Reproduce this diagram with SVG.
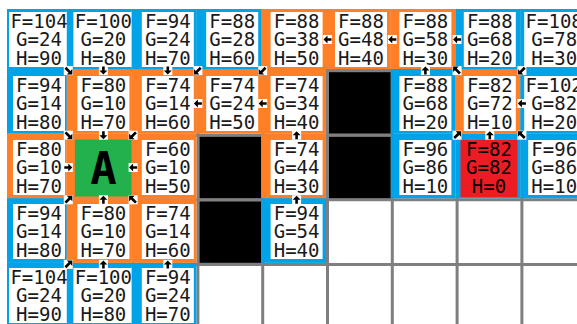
<svg xmlns="http://www.w3.org/2000/svg" xmlns:xlink="http://www.w3.org/1999/xlink" width="577" height="324" viewBox="0 0 577 324">
<style>
.b{fill:#00A2E8}
.o{fill:#FF7F27}
.w{fill:#fff}
.k{fill:#000}
.g{stroke:#7f7f7f;stroke-width:3;fill:none}
.t{font-family:"DejaVu Sans Mono",monospace;font-size:19px;fill:#1a1a1a;text-anchor:middle}
.big{font-family:"DejaVu Sans Mono",monospace;font-size:44px;font-weight:bold;fill:#000;text-anchor:middle}
</style>
<defs>
<g id="au"><rect x="-4.5" y="-4.5" width="9" height="9" fill="#fff"/><path d="M0,-4 L4,0 L1.3,0 L1.3,4 L-1.3,4 L-1.3,0 L-4,0 Z" fill="#000"/></g>
<g id="ad"><rect x="-4.5" y="-4.5" width="9" height="9" fill="#fff"/><path d="M-4,-4 L1.5,-4 L-0.3,-2.2 L3.8,1.9 L1.9,3.8 L-2.2,-0.3 L-4,1.5 Z" fill="#000"/></g>
</defs>
<rect width="577" height="324" fill="#fff"/>
<g id="grid">
<path class="g" d="M68.3,9V324M133.1,9V324M197.9,9V324M262.7,9V324M327.5,9V324M392.3,9V324M457.1,9V324M521.9,9V324M7,70.6H577M7,135.2H577M7,199.8H577M7,264.4H577"/>
</g>
<g id="walls">
<rect class="k" x="329" y="72.1" width="61.8" height="61.6"/>
<rect class="k" x="199.4" y="136.7" width="61.8" height="61.6"/>
<rect class="k" x="329" y="136.7" width="61.8" height="61.6"/>
<rect class="k" x="199.4" y="201.3" width="61.8" height="61.6"/>
</g>
<g id="c0-0"><rect class="b" x="7" y="9" width="59.8" height="60.1"/><rect class="w" x="9" y="12" width="60" height="55"/><text class="t" y="28.1"><tspan x="39">F=104</tspan><tspan x="39" dy="18.3">G=24</tspan><tspan x="39" dy="18.3">H=90</tspan></text></g>
<g id="c1-0"><rect class="b" x="66.8" y="9" width="64.8" height="60.1"/><rect class="w" x="73.4" y="12" width="60" height="55"/><text class="t" y="28.1"><tspan x="103.4">F=100</tspan><tspan x="103.4" dy="18.3">G=20</tspan><tspan x="103.4" dy="18.3">H=80</tspan></text></g>
<g id="c2-0"><rect class="b" x="131.6" y="9" width="64.8" height="60.1"/><rect class="w" x="141.8" y="12" width="52" height="55"/><text class="t" y="28.1"><tspan x="167.8">F=94</tspan><tspan x="167.8" dy="18.3">G=24</tspan><tspan x="167.8" dy="18.3">H=70</tspan></text></g>
<g id="c3-0"><rect class="b" x="196.4" y="9" width="64.8" height="60.1"/><rect class="w" x="206.2" y="12" width="52" height="55"/><text class="t" y="28.1"><tspan x="232.2">F=88</tspan><tspan x="232.2" dy="18.3">G=28</tspan><tspan x="232.2" dy="18.3">H=60</tspan></text></g>
<g id="c4-0"><rect class="o" x="261.2" y="9" width="64.8" height="60.1"/><rect class="w" x="270.6" y="12" width="52" height="55"/><text class="t" y="28.1"><tspan x="296.6">F=88</tspan><tspan x="296.6" dy="18.3">G=38</tspan><tspan x="296.6" dy="18.3">H=50</tspan></text></g>
<g id="c5-0"><rect class="o" x="326" y="9" width="64.8" height="60.1"/><rect class="w" x="335" y="12" width="52" height="55"/><text class="t" y="28.1"><tspan x="361">F=88</tspan><tspan x="361" dy="18.3">G=48</tspan><tspan x="361" dy="18.3">H=40</tspan></text></g>
<g id="c6-0"><rect class="o" x="390.8" y="9" width="64.8" height="60.1"/><rect class="w" x="399.4" y="12" width="52" height="55"/><text class="t" y="28.1"><tspan x="425.4">F=88</tspan><tspan x="425.4" dy="18.3">G=58</tspan><tspan x="425.4" dy="18.3">H=30</tspan></text></g>
<g id="c7-0"><rect class="b" x="455.6" y="9" width="64.8" height="60.1"/><rect class="w" x="463.8" y="12" width="52" height="55"/><text class="t" y="28.1"><tspan x="489.8">F=88</tspan><tspan x="489.8" dy="18.3">G=68</tspan><tspan x="489.8" dy="18.3">H=20</tspan></text></g>
<g id="c8-0"><rect class="b" x="520.4" y="9" width="64.8" height="60.1"/><rect class="w" x="524.2" y="12" width="60" height="55"/><text class="t" y="28.1"><tspan x="554.2">F=108</tspan><tspan x="554.2" dy="18.3">G=78</tspan><tspan x="554.2" dy="18.3">H=30</tspan></text></g>

<g id="c0-1"><rect class="b" x="7" y="69.1" width="59.8" height="64.6"/><rect class="w" x="13" y="76" width="52" height="55"/><text class="t" y="92.1"><tspan x="39">F=94</tspan><tspan x="39" dy="18.3">G=14</tspan><tspan x="39" dy="18.3">H=80</tspan></text></g>
<g id="c1-1"><rect class="o" x="66.8" y="69.1" width="64.8" height="64.6"/><rect class="w" x="77.4" y="76" width="52" height="55"/><text class="t" y="92.1"><tspan x="103.4">F=80</tspan><tspan x="103.4" dy="18.3">G=10</tspan><tspan x="103.4" dy="18.3">H=70</tspan></text></g>
<g id="c2-1"><rect class="o" x="131.6" y="69.1" width="64.8" height="64.6"/><rect class="w" x="141.8" y="76" width="52" height="55"/><text class="t" y="92.1"><tspan x="167.8">F=74</tspan><tspan x="167.8" dy="18.3">G=14</tspan><tspan x="167.8" dy="18.3">H=60</tspan></text></g>
<g id="c3-1"><rect class="o" x="196.4" y="69.1" width="64.8" height="64.6"/><rect class="w" x="206.2" y="76" width="52" height="55"/><text class="t" y="92.1"><tspan x="232.2">F=74</tspan><tspan x="232.2" dy="18.3">G=24</tspan><tspan x="232.2" dy="18.3">H=50</tspan></text></g>
<g id="c4-1"><rect class="o" x="261.2" y="69.1" width="64.8" height="64.6"/><rect class="w" x="270.6" y="76" width="52" height="55"/><text class="t" y="92.1"><tspan x="296.6">F=74</tspan><tspan x="296.6" dy="18.3">G=34</tspan><tspan x="296.6" dy="18.3">H=40</tspan></text></g>
<g id="c6-1"><rect class="b" x="390.8" y="69.1" width="64.8" height="64.6"/><rect class="w" x="399.4" y="76" width="52" height="55"/><text class="t" y="92.1"><tspan x="425.4">F=88</tspan><tspan x="425.4" dy="18.3">G=68</tspan><tspan x="425.4" dy="18.3">H=20</tspan></text></g>
<g id="c7-1"><rect class="o" x="455.6" y="69.1" width="64.8" height="64.6"/><rect class="w" x="463.8" y="76" width="52" height="55"/><text class="t" y="92.1"><tspan x="489.8">F=82</tspan><tspan x="489.8" dy="18.3">G=72</tspan><tspan x="489.8" dy="18.3">H=10</tspan></text></g>
<g id="c8-1"><rect class="b" x="520.4" y="69.1" width="64.8" height="64.6"/><rect class="w" x="524.2" y="76" width="60" height="55"/><text class="t" y="92.1"><tspan x="554.2">F=102</tspan><tspan x="554.2" dy="18.3">G=82</tspan><tspan x="554.2" dy="18.3">H=20</tspan></text></g>

<g id="c0-2"><rect class="o" x="7" y="133.7" width="59.8" height="64.6"/><rect class="w" x="13" y="140" width="52" height="55"/><text class="t" y="156.1"><tspan x="39">F=80</tspan><tspan x="39" dy="18.3">G=10</tspan><tspan x="39" dy="18.3">H=70</tspan></text></g>
<g id="start"><rect class="o" x="66.8" y="133.7" width="64.8" height="64.6"/><rect fill="#22B14C" x="74.9" y="139.5" width="57" height="57"/><text class="big" x="103.4" y="183.5">A</text></g>
<g id="c2-2"><rect class="o" x="131.6" y="133.7" width="64.8" height="64.6"/><rect class="w" x="141.8" y="140" width="52" height="55"/><text class="t" y="156.1"><tspan x="167.8">F=60</tspan><tspan x="167.8" dy="18.3">G=10</tspan><tspan x="167.8" dy="18.3">H=50</tspan></text></g>
<g id="c4-2"><rect class="o" x="261.2" y="133.7" width="64.8" height="64.6"/><rect class="w" x="270.6" y="140" width="52" height="55"/><text class="t" y="156.1"><tspan x="296.6">F=74</tspan><tspan x="296.6" dy="18.3">G=44</tspan><tspan x="296.6" dy="18.3">H=30</tspan></text></g>
<g id="c6-2"><rect class="b" x="390.8" y="133.7" width="64.8" height="64.6"/><rect class="w" x="399.4" y="140" width="52" height="55"/><text class="t" y="156.1"><tspan x="425.4">F=96</tspan><tspan x="425.4" dy="18.3">G=86</tspan><tspan x="425.4" dy="18.3">H=10</tspan></text></g>
<g id="goal"><rect class="b" x="455.6" y="133.7" width="64.8" height="64.6"/><rect fill="#ED1C24" x="460.5" y="140" width="57" height="57"/><text class="t" y="156.1" style="fill:#000"><tspan x="489">F=82</tspan><tspan x="489" dy="18.3">G=82</tspan><tspan x="489" dy="18.3">H=0</tspan></text></g>
<g id="c8-2"><rect class="b" x="520.4" y="133.7" width="64.8" height="64.6"/><rect class="w" x="528.2" y="140" width="52" height="55"/><text class="t" y="156.1"><tspan x="554.2">F=96</tspan><tspan x="554.2" dy="18.3">G=86</tspan><tspan x="554.2" dy="18.3">H=10</tspan></text></g>

<g id="c0-3"><rect class="b" x="7" y="198.3" width="59.8" height="64.6"/><rect class="w" x="13" y="204" width="52" height="55"/><text class="t" y="220.1"><tspan x="39">F=94</tspan><tspan x="39" dy="18.3">G=14</tspan><tspan x="39" dy="18.3">H=80</tspan></text></g>
<g id="c1-3"><rect class="o" x="66.8" y="198.3" width="64.8" height="64.6"/><rect class="w" x="77.4" y="204" width="52" height="55"/><text class="t" y="220.1"><tspan x="103.4">F=80</tspan><tspan x="103.4" dy="18.3">G=10</tspan><tspan x="103.4" dy="18.3">H=70</tspan></text></g>
<g id="c2-3"><rect class="o" x="131.6" y="198.3" width="64.8" height="64.6"/><rect class="w" x="141.8" y="204" width="52" height="55"/><text class="t" y="220.1"><tspan x="167.8">F=74</tspan><tspan x="167.8" dy="18.3">G=14</tspan><tspan x="167.8" dy="18.3">H=60</tspan></text></g>
<g id="c4-3"><rect class="b" x="261.2" y="198.3" width="64.8" height="64.6"/><rect class="w" x="270.6" y="204" width="52" height="55"/><text class="t" y="220.1"><tspan x="296.6">F=94</tspan><tspan x="296.6" dy="18.3">G=54</tspan><tspan x="296.6" dy="18.3">H=40</tspan></text></g>

<g id="c0-4"><rect class="b" x="7" y="262.9" width="59.8" height="64.6"/><rect class="w" x="9" y="268" width="60" height="55"/><text class="t" y="284.1"><tspan x="39">F=104</tspan><tspan x="39" dy="18.3">G=24</tspan><tspan x="39" dy="18.3">H=90</tspan></text></g>
<g id="c1-4"><rect class="b" x="66.8" y="262.9" width="64.8" height="64.6"/><rect class="w" x="73.4" y="268" width="60" height="55"/><text class="t" y="284.1"><tspan x="103.4">F=100</tspan><tspan x="103.4" dy="18.3">G=20</tspan><tspan x="103.4" dy="18.3">H=80</tspan></text></g>
<g id="c2-4"><rect class="b" x="131.6" y="262.9" width="64.8" height="64.6"/><rect class="w" x="141.8" y="268" width="52" height="55"/><text class="t" y="284.1"><tspan x="167.8">F=94</tspan><tspan x="167.8" dy="18.3">G=24</tspan><tspan x="167.8" dy="18.3">H=70</tspan></text></g>

<g id="connectors">
<use href="#ad" transform="translate(68.3,70.6) rotate(180)"/>
<use href="#au" transform="translate(103.4,70.6) rotate(180)"/>
<use href="#au" transform="translate(167.8,70.6) rotate(180)"/>
<use href="#ad" transform="translate(197.9,70.6) rotate(270)"/>
<use href="#ad" transform="translate(262.7,70.6) rotate(270)"/>
<use href="#au" transform="translate(327.5,39.5) rotate(270)"/>
<use href="#au" transform="translate(392.3,39.5) rotate(270)"/>
<use href="#au" transform="translate(457.1,39.5) rotate(270)"/>
<use href="#ad" transform="translate(521.9,70.6) rotate(270)"/>
<use href="#ad" transform="translate(68.3,135.2) rotate(180)"/>
<use href="#au" transform="translate(103.4,135.2) rotate(180)"/>
<use href="#ad" transform="translate(133.1,135.2) rotate(270)"/>
<use href="#au" transform="translate(197.9,103.5) rotate(270)"/>
<use href="#au" transform="translate(262.7,103.5) rotate(270)"/>
<use href="#au" transform="translate(425.4,70.6)"/>
<use href="#ad" transform="translate(457.1,70.6)"/>
<use href="#au" transform="translate(521.9,103.5) rotate(270)"/>
<use href="#au" transform="translate(68.3,167.5) rotate(90)"/>
<use href="#au" transform="translate(133.1,167.5) rotate(270)"/>
<use href="#au" transform="translate(296.6,135.2)"/>
<use href="#ad" transform="translate(457.1,135.2) rotate(90)"/>
<use href="#au" transform="translate(489.8,135.2)"/>
<use href="#ad" transform="translate(521.9,135.2)"/>
<use href="#ad" transform="translate(68.3,199.8) rotate(90)"/>
<use href="#au" transform="translate(103.4,199.8)"/>
<use href="#ad" transform="translate(133.1,199.8)"/>
<use href="#au" transform="translate(296.6,199.8)"/>
<use href="#ad" transform="translate(68.3,264.4) rotate(90)"/>
<use href="#au" transform="translate(103.4,264.4)"/>
<use href="#au" transform="translate(167.8,264.4)"/>
</g>
</svg>
